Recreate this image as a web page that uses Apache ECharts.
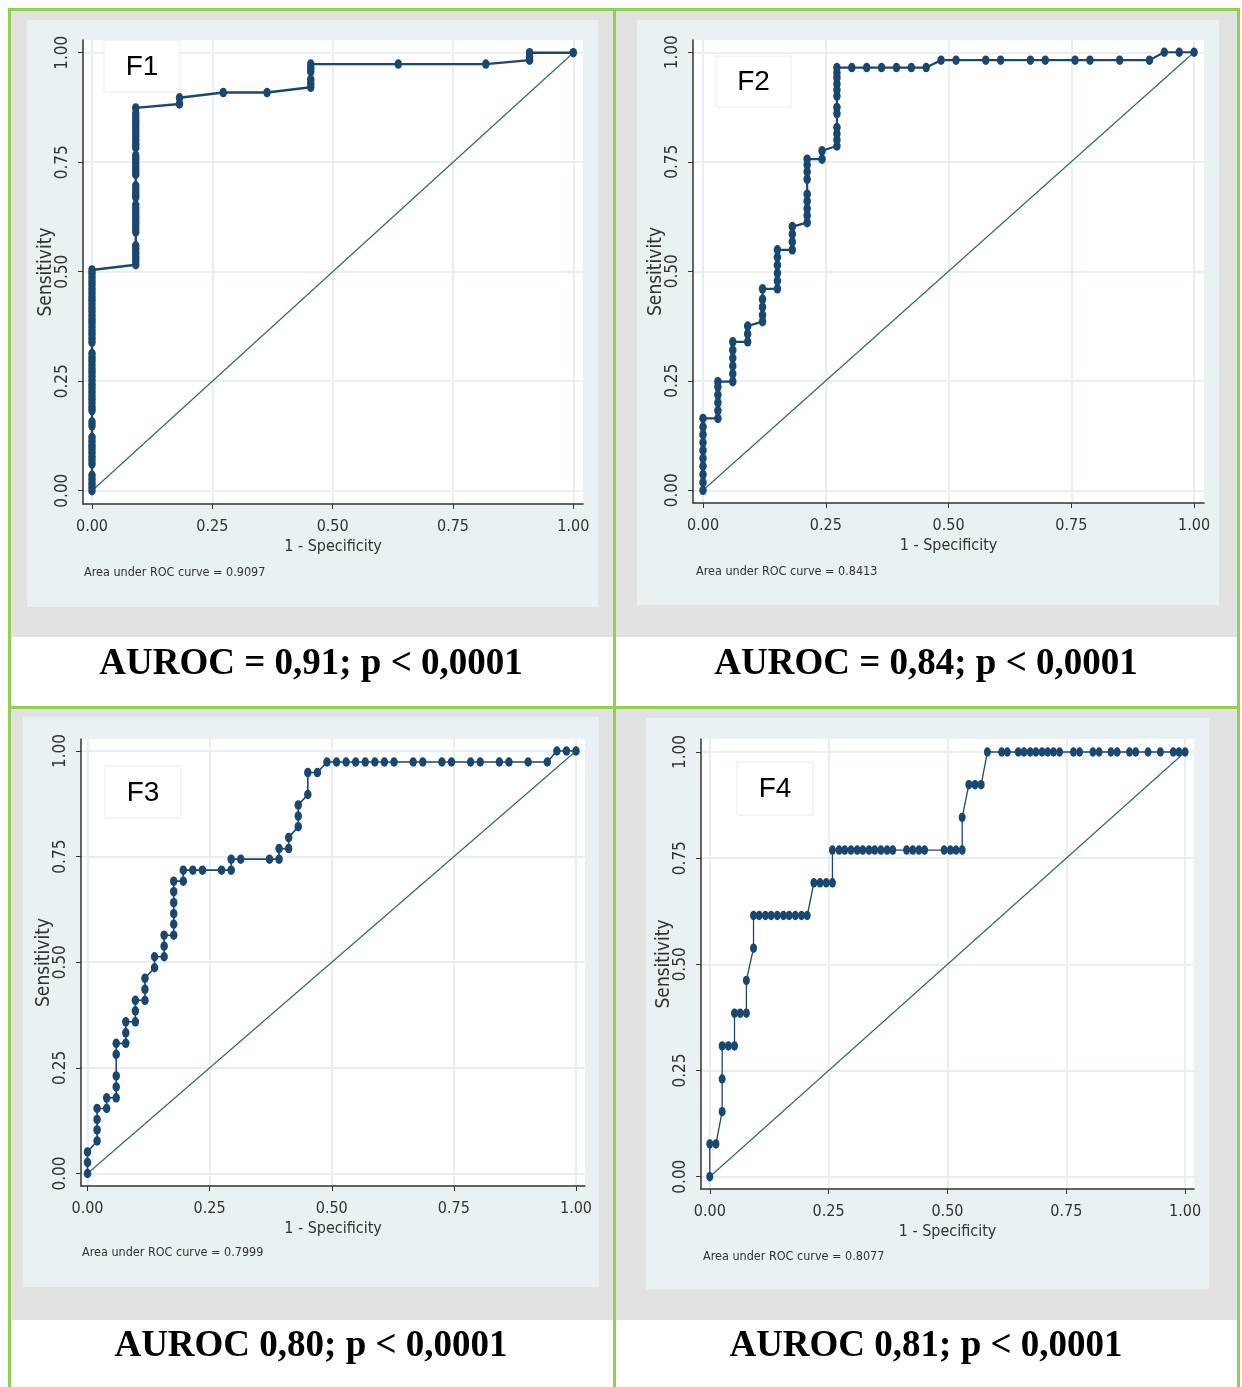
<!DOCTYPE html>
<html><head><meta charset="utf-8">
<script src="https://cdn.jsdelivr.net/npm/echarts@6/dist/echarts.min.js"></script>
<style>
html,body{margin:0;padding:0;background:#fff;}
#wrap{position:relative;width:1242px;height:1387px;overflow:hidden;background:#fff;}
.bx{position:absolute;}
#chart{position:absolute;left:0;top:0;width:1242px;height:1387px;}
</style></head><body>
<div id="wrap"><div id="chart"></div></div>
<script>
// ---------------- data ----------------
const tickValues = [0, 0.25, 0.5, 0.75, 1];
const panelNames = ['F1', 'F2', 'F3', 'F4'];
const aucLabels = ['Area under ROC curve = 0.9097', 'Area under ROC curve = 0.8413',
                   'Area under ROC curve = 0.7999', 'Area under ROC curve = 0.8077'];
const captions = ['AUROC = 0,91; p < 0,0001', 'AUROC = 0,84; p < 0,0001',
                  'AUROC 0,80; p < 0,0001', 'AUROC 0,81; p < 0,0001'];
const xTitle = '1 - Specificity';
const yTitle = 'Sensitivity';
const diagonal = [[0, 0], [1, 1]];

const f1Roc = [
  [0,0],[0,0.009],[0,0.017],[0,0.026],[0,0.035],[0,0.061],[0,0.07],[0,0.078],[0,0.087],[0,0.096],
  [0,0.104],[0,0.113],[0,0.122],[0,0.148],[0,0.157],[0,0.183],[0,0.191],[0,0.2],[0,0.209],[0,0.217],
  [0,0.226],[0,0.235],[0,0.243],[0,0.252],[0,0.261],[0,0.27],[0,0.278],[0,0.287],[0,0.296],[0,0.304],
  [0,0.313],[0,0.339],[0,0.348],[0,0.357],[0,0.365],[0,0.374],[0,0.383],[0,0.391],[0,0.4],[0,0.409],
  [0,0.417],[0,0.426],[0,0.435],[0,0.443],[0,0.452],[0,0.461],[0,0.47],[0,0.478],[0,0.487],[0,0.496],
  [0,0.504],
  [0.0909,0.516],[0.0909,0.525],[0.0909,0.533],[0.0909,0.542],[0.0909,0.551],[0.0909,0.559],
  [0.0909,0.591],[0.0909,0.6],[0.0909,0.609],[0.0909,0.617],[0.0909,0.626],[0.0909,0.635],[0.0909,0.643],
  [0.0909,0.652],[0.0909,0.67],[0.0909,0.678],[0.0909,0.687],[0.0909,0.696],[0.0909,0.722],[0.0909,0.73],
  [0.0909,0.739],[0.0909,0.748],[0.0909,0.757],[0.0909,0.765],[0.0909,0.783],[0.0909,0.791],[0.0909,0.8],
  [0.0909,0.809],[0.0909,0.817],[0.0909,0.826],[0.0909,0.835],[0.0909,0.843],[0.0909,0.852],[0.0909,0.861],
  [0.0909,0.874],
  [0.1818,0.883],[0.1818,0.897],[0.2727,0.909],[0.3636,0.909],
  [0.4545,0.921],[0.4545,0.93],[0.4545,0.939],[0.4545,0.957],[0.4545,0.965],[0.4545,0.974],
  [0.6364,0.974],[0.8182,0.974],[0.9091,0.983],[0.9091,0.991],[0.9091,1],[1,1]
];
const f2Roc = [
  [0,0],[0,0.018],[0,0.036],[0,0.055],[0,0.073],[0,0.091],[0,0.109],[0,0.127],[0,0.145],[0,0.164],
  [0.0303,0.164],[0.0303,0.182],[0.0303,0.2],[0.0303,0.218],[0.0303,0.236],[0.0303,0.248],
  [0.0606,0.248],[0.0606,0.266],[0.0606,0.284],[0.0606,0.302],[0.0606,0.32],[0.0606,0.339],
  [0.0909,0.339],[0.0909,0.357],[0.0909,0.375],
  [0.1212,0.385],[0.1212,0.4],[0.1212,0.418],[0.1212,0.436],[0.1212,0.46],
  [0.1515,0.46],[0.1515,0.478],[0.1515,0.496],[0.1515,0.514],[0.1515,0.532],[0.1515,0.549],
  [0.1818,0.549],[0.1818,0.567],[0.1818,0.585],[0.1818,0.602],
  [0.2121,0.611],[0.2121,0.627],[0.2121,0.643],[0.2121,0.66],[0.2121,0.676],[0.2121,0.71],
  [0.2121,0.727],[0.2121,0.743],[0.2121,0.756],
  [0.2424,0.756],[0.2424,0.775],
  [0.2727,0.786],[0.2727,0.8],[0.2727,0.814],[0.2727,0.828],[0.2727,0.86],[0.2727,0.874],
  [0.2727,0.9],[0.2727,0.914],[0.2727,0.928],[0.2727,0.942],[0.2727,0.953],[0.2727,0.965],
  [0.303,0.965],[0.3333,0.965],[0.3636,0.965],[0.3939,0.965],[0.4242,0.965],[0.4545,0.965],
  [0.4848,0.982],[0.5152,0.982],[0.5758,0.982],[0.6061,0.982],[0.6667,0.982],[0.697,0.982],
  [0.7576,0.982],[0.7879,0.982],[0.8485,0.982],[0.9091,0.982],
  [0.9394,1],[0.9697,1],[1,1]
];
const f3Roc = [
  [0,0],[0,0.026],[0,0.051],
  [0.0196,0.077],[0.0196,0.103],[0.0196,0.128],[0.0196,0.154],
  [0.0392,0.154],[0.0392,0.179],
  [0.0588,0.179],[0.0588,0.205],[0.0588,0.231],[0.0588,0.282],[0.0588,0.308],
  [0.0784,0.308],[0.0784,0.333],[0.0784,0.359],
  [0.098,0.359],[0.098,0.385],[0.098,0.41],
  [0.1176,0.41],[0.1176,0.436],[0.1176,0.462],
  [0.1373,0.487],[0.1373,0.513],
  [0.1569,0.513],[0.1569,0.538],[0.1569,0.564],
  [0.1765,0.564],[0.1765,0.59],[0.1765,0.615],[0.1765,0.641],[0.1765,0.667],[0.1765,0.692],
  [0.1961,0.692],[0.1961,0.718],
  [0.2157,0.718],[0.2353,0.718],[0.2745,0.718],[0.2941,0.718],
  [0.2941,0.744],[0.3137,0.744],[0.3725,0.744],[0.3922,0.744],
  [0.3922,0.769],[0.4118,0.769],[0.4118,0.795],
  [0.4314,0.821],[0.4314,0.846],[0.4314,0.872],
  [0.451,0.897],[0.451,0.949],[0.4706,0.949],
  [0.4902,0.974],[0.5098,0.974],[0.5294,0.974],[0.549,0.974],[0.5686,0.974],[0.5882,0.974],
  [0.6078,0.974],[0.6275,0.974],[0.6667,0.974],[0.6863,0.974],[0.7255,0.974],[0.7451,0.974],
  [0.7843,0.974],[0.8039,0.974],[0.8431,0.974],[0.8627,0.974],[0.902,0.974],[0.9412,0.974],
  [0.9608,1],[0.9804,1],[1,1]
];
const f4Roc = [
  [0,0],[0,0.077],[0.013,0.077],[0.026,0.153],[0.026,0.23],[0.026,0.308],[0.039,0.308],[0.052,0.308],
  [0.052,0.385],[0.064,0.385],[0.077,0.385],[0.077,0.462],[0.092,0.538],[0.092,0.615],
  [0.104,0.615],[0.117,0.615],[0.129,0.615],[0.142,0.615],[0.155,0.615],[0.167,0.615],[0.18,0.615],
  [0.193,0.615],[0.205,0.615],
  [0.219,0.692],[0.232,0.692],[0.245,0.692],[0.258,0.692],
  [0.258,0.769],[0.272,0.769],[0.284,0.769],[0.297,0.769],[0.31,0.769],[0.322,0.769],[0.335,0.769],
  [0.347,0.769],[0.36,0.769],[0.373,0.769],[0.385,0.769],[0.414,0.769],[0.427,0.769],[0.44,0.769],
  [0.452,0.769],[0.493,0.769],[0.506,0.769],[0.518,0.769],[0.531,0.769],
  [0.531,0.846],[0.545,0.923],[0.558,0.923],[0.571,0.923],
  [0.584,1],[0.614,1],[0.626,1],[0.649,1],[0.661,1],[0.674,1],[0.686,1],[0.699,1],[0.711,1],
  [0.723,1],[0.736,1],[0.765,1],[0.778,1],[0.806,1],[0.819,1],[0.844,1],[0.857,1],[0.883,1],
  [0.896,1],[0.922,1],[0.948,1],[0.975,1],[0.987,1],[1,1]
];
const rocSeries = [f1Roc, f2Roc, f3Roc, f4Roc];

// ---------------- layout ----------------
const GREEN = '#92d050', GRAY = '#e2e2e2', LIGHT = '#eaf1f3';
const blocks = [
  [8, 8, 1232, 1379, GREEN],
  [11, 11, 602, 626, GRAY], [11, 637, 602, 69, '#fff'],
  [616, 11, 621, 626, GRAY], [616, 637, 621, 69, '#fff'],
  [11, 709, 602, 611, GRAY], [11, 1320, 602, 67, '#fff'],
  [616, 709, 621, 611, GRAY], [616, 1320, 621, 67, '#fff'],
  [27, 20, 571, 587, LIGHT], [637, 20, 582, 585, LIGHT],
  [23, 717, 576, 570, LIGHT], [646, 718, 563, 571, LIGHT]
];
const wrap = document.getElementById('wrap');
blocks.forEach(b => {
  const d = document.createElement('div');
  d.className = 'bx';
  d.style.cssText = `left:${b[0]}px;top:${b[1]}px;width:${b[2]}px;height:${b[3]}px;background:${b[4]};`;
  wrap.insertBefore(d, document.getElementById('chart'));
});

const panels = [
  {grid:{left:83,top:40,width:500,height:464}, xr:[-0.0187,1.0201], yr:[-0.0304,1.029],
   box:[104,40,76,52], auc:[84,573], cap:[311,664], lw:2.4, sym:[7.5,9.5]},
  {grid:{left:693,top:40,width:511,height:463}, xr:[-0.0204,1.0202], yr:[-0.029,1.028],
   box:[716,56,75,51], auc:[696,572], cap:[926,664], lw:2.2, sym:[7.5,9.5]},
  {grid:{left:81,top:739,width:504,height:447}, xr:[-0.0133,1.0184], yr:[-0.0296,1.0284],
   box:[105,766,76,52], auc:[82,1253], cap:[311,1346], lw:1.6, sym:[7.5,9.5]},
  {grid:{left:701,top:739,width:493,height:450}, xr:[-0.0185,1.0187], yr:[-0.029,1.0306],
   box:[737,762,76,53], auc:[703,1257], cap:[926,1346], lw:1.3, sym:[7,9.5]}
];

const NARROW = "'Liberation Sans Narrow','Arial Narrow','DejaVu Sans Condensed',sans-serif";
const AX = '#333';
const grids = [], xAxes = [], yAxes = [], series = [], graphics = [];
panels.forEach((p, i) => {
  grids.push(Object.assign({show:true, backgroundColor:'#fff', borderWidth:0, containLabel:false}, p.grid));
  xAxes.push({
    gridIndex:i, type:'value', min:p.xr[0], max:p.xr[1],
    axisLine:{show:true, onZero:false, lineStyle:{color:AX, width:1.5}},
    axisTick:{show:true, length:5, customValues:tickValues, lineStyle:{color:AX, width:1}},
    axisLabel:{customValues:tickValues, formatter:v => v.toFixed(2), fontFamily:NARROW, fontSize:16, color:AX, margin:15},
    splitLine:{show:true, lineStyle:{color:'#e8eff2', width:2}},
    name:xTitle, nameLocation:'middle', nameGap:35, nameMoveOverlap:false,
    nameTextStyle:{fontFamily:NARROW, fontSize:16, color:AX}
  });
  yAxes.push({
    gridIndex:i, type:'value', min:p.yr[0], max:p.yr[1],
    axisLine:{show:true, onZero:false, lineStyle:{color:AX, width:1.5}},
    axisTick:{show:true, length:5, customValues:tickValues, lineStyle:{color:AX, width:1}},
    axisLabel:{customValues:tickValues, formatter:v => v.toFixed(2), rotate:90, fontFamily:NARROW, fontSize:17, color:AX, margin:12},
    splitLine:{show:true, lineStyle:{color:'#e8eff2', width:2}},
    name:yTitle, nameLocation:'middle', nameGap:27, nameRotate:90, nameMoveOverlap:false,
    nameTextStyle:{fontFamily:NARROW, fontSize:19, color:AX}
  });
  series.push({type:'line', xAxisIndex:i, yAxisIndex:i, data:diagonal, symbol:'none', silent:true,
    lineStyle:{color:'#2f6f62', width:1.2}, z:2, animation:false});
  series.push({type:'line', xAxisIndex:i, yAxisIndex:i, data:rocSeries[i], symbol:'circle',
    symbolSize:p.sym, showSymbol:true, silent:true, itemStyle:{color:'#1a476f'},
    lineStyle:{color:'#1a476f', width:p.lw}, z:3, animation:false});
  graphics.push({type:'rect', z:10, shape:{x:p.box[0], y:p.box[1], width:p.box[2], height:p.box[3]},
    style:{fill:'#fff', stroke:'#e6edf0', lineWidth:1}});
  graphics.push({type:'text', z:11, style:{x:p.box[0] + p.box[2] / 2, y:p.box[1] + p.box[3] / 2 + 1,
    text:panelNames[i], textAlign:'center', textVerticalAlign:'middle',
    font:"28px 'Liberation Sans', Arial, sans-serif", fill:'#000'}});
  graphics.push({type:'text', z:11, style:{x:p.auc[0], y:p.auc[1], text:aucLabels[i],
    textAlign:'left', textVerticalAlign:'middle', font:"12.5px " + NARROW, fill:AX}});
  graphics.push({type:'text', z:11, style:{x:p.cap[0], y:p.cap[1], text:captions[i],
    textAlign:'center', textVerticalAlign:'middle',
    font:"bold 37px 'Liberation Serif','Times New Roman', serif", fill:'#000'}});
});

const chart = echarts.init(document.getElementById('chart'), null, {renderer:'canvas'});
chart.setOption({
  animation:false,
  backgroundColor:'transparent',
  grid:grids, xAxis:xAxes, yAxis:yAxes, series:series,
  graphic:{elements:graphics}
});
</script>
</body></html>
